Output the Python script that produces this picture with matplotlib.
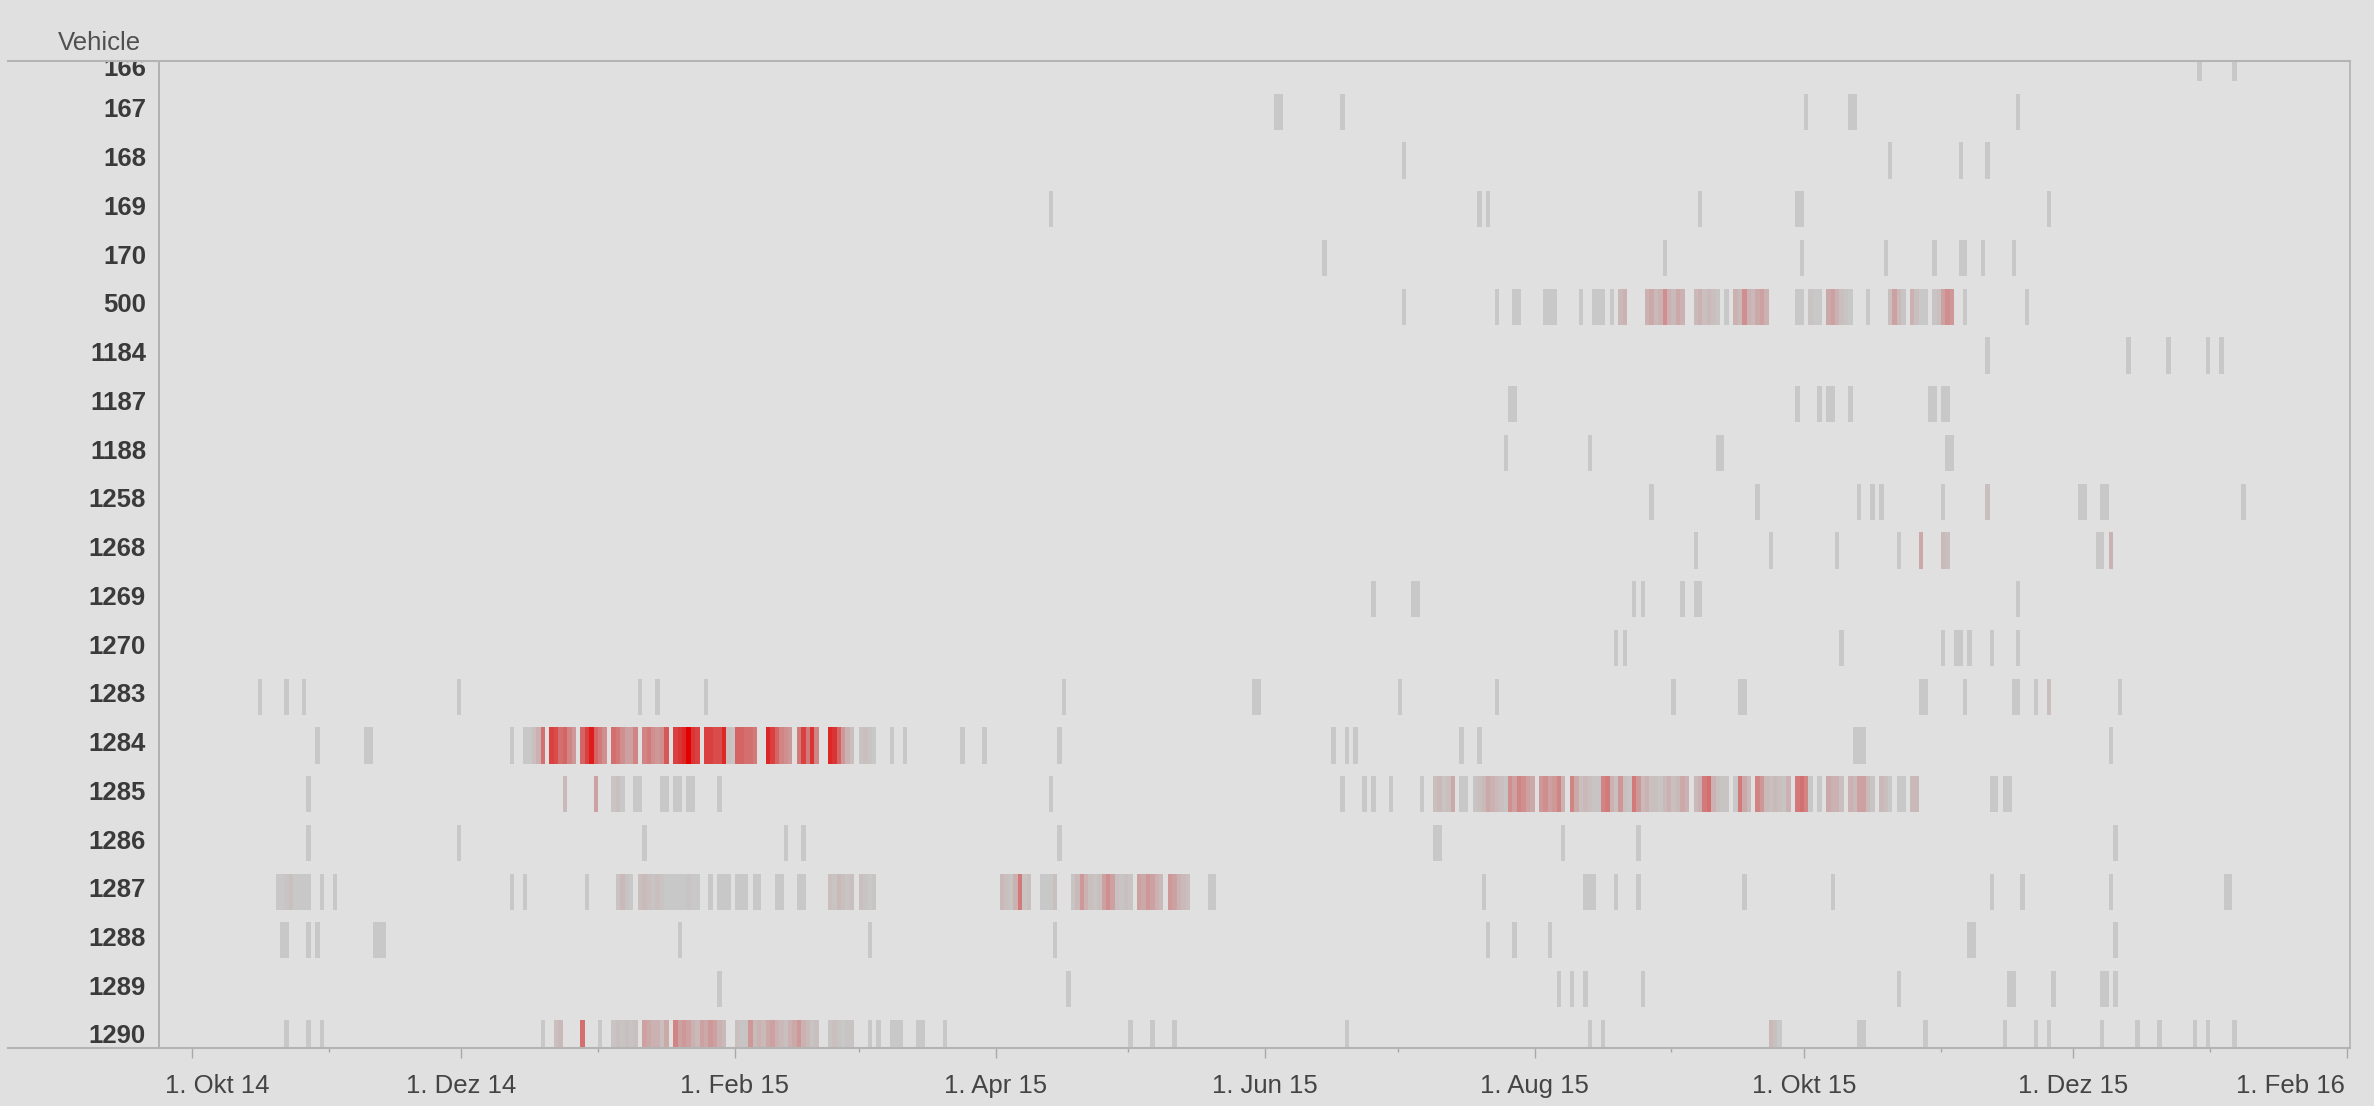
import numpy as np
import matplotlib
matplotlib.use("Agg")
import matplotlib.pyplot as plt
import matplotlib.dates as mdates
from matplotlib.transforms import blended_transform_factory
from matplotlib.patches import Rectangle
from matplotlib.lines import Line2D

# ---------------- data ----------------
START = "2014-10-01"   # day 0 of the event offsets below

vehicles = ["166", "167", "168", "169", "170", "500", "1184", "1187", "1188", "1258",
            "1268", "1269", "1270", "1283", "1284", "1285", "1286", "1287", "1288",
            "1289", "1290"]

# each entry: (first day offset, [level of each consecutive day]) ; level 0 = grey, 1 = full red
ev_166 = [(454, [0]), (462, [0])]
ev_167 = [(245, [0, 0]), (260, [0]), (365, [0]), (375, [0, 0]), (413, [0])]
ev_168 = [(274, [0]), (384, [0]), (400, [0]), (406, [0])]
ev_169 = [(194, [0]), (291, [0]), (293, [0]), (341, [0]), (363, [0, 0]), (420, [0])]
ev_170 = [(256, [0]), (333, [0]), (364, [0]), (383, [0]), (394, [0]), (400, [0, 0]),
          (405, [0]), (412, [0])]
ev_500 = [(274, [0]), (295, [0]), (299, [0, 0]), (306, [0, 0, 0]), (314, [0]), (317, [0, 0, 0]),
          (321, [0]), (323, [0.15, 0.2]),
          (329, [0.2, 0.25, 0.15, 0.2, 0.4, 0.2, 0.15, 0.25, 0.2]),
          (340, [0.15, 0.2, 0.1, 0.15, 0.1, 0.05]), (347, [0]),
          (349, [0.2, 0.15, 0.4, 0.2, 0.15, 0.25, 0.3, 0.2]), (363, [0, 0]), (366, [0.05, 0, 0]),
          (370, [0.25, 0.3, 0.2, 0.1, 0.05, 0]), (379, [0]), (384, [0.1, 0.3, 0.15, 0.05]),
          (389, [0.2, 0.1, 0, 0]), (394, [0.05, 0.1, 0.3, 0.4, 0.35]), (401, [0]), (415, [0])]
ev_1184 = [(406, [0]), (438, [0]), (447, [0]), (456, [0]), (459, [0])]
ev_1187 = [(298, [0, 0]), (363, [0]), (368, [0]), (370, [0, 0]), (375, [0]), (393, [0, 0]),
           (396, [0, 0])]
ev_1188 = [(297, [0]), (316, [0]), (345, [0, 0]), (397, [0, 0])]
ev_1258 = [(330, [0]), (354, [0]), (377, [0]), (380, [0]), (382, [0]), (396, [0]), (406, [0.1]),
           (427, [0, 0]), (432, [0, 0]), (464, [0])]
ev_1268 = [(340, [0]), (357, [0]), (372, [0]), (386, [0]), (391, [0.25]), (396, [0.15, 0.1]),
           (431, [0, 0]), (434, [0.2])]
ev_1269 = [(267, [0]), (276, [0, 0]), (326, [0]), (328, [0]), (337, [0]), (340, [0, 0]), (413, [0])]
ev_1270 = [(322, [0]), (324, [0]), (373, [0]), (396, [0]), (399, [0, 0]), (402, [0]), (407, [0]),
           (413, [0])]
ev_1283 = [(15, [0]), (21, [0]), (25, [0]), (60, [0]), (101, [0]), (105, [0]), (116, [0]),
           (197, [0]), (240, [0, 0]), (273, [0]), (295, [0]), (335, [0]), (350, [0, 0]),
           (391, [0, 0]), (401, [0]), (412, [0, 0]), (417, [0]), (420, [0.1]), (436, [0])]
ev_1284 = [(28, [0]), (39, [0, 0]), (72, [0]), (75, [0, 0, 0.1, 0.2, 0.55]),
           (81, [0.75, 0.7, 0.55, 0.6, 0.45, 0.35]), (88, [0.6, 0.75, 0.9, 0.6, 0.5, 0.4]),
           (95, [0.55, 0.5, 0.4, 0.3, 0.3, 0.45]), (102, [0.45, 0.5, 0.4, 0.35, 0.4, 0.65]),
           (109, [0.75, 0.8, 0.85, 1.0, 0.8, 0.75]),
           (116, [0.75, 0.75, 0.7, 0.7, 0.85, 0.1, 0.05]),
           (123, [0.6, 0.6, 0.55, 0.55, 0.5]), (130, [0.85, 0.75, 0.6, 0.45, 0.4, 0.35]),
           (137, [0.5, 0.75, 0.5, 0.8, 0.45]), (144, [0.85, 0.8, 0.6, 0.35, 0.2, 0.1]),
           (151, [0.05, 0.1, 0.05, 0]), (158, [0]), (161, [0]), (174, [0]), (179, [0]), (196, [0]),
           (258, [0]), (261, [0]), (263, [0]), (287, [0]), (291, [0]), (376, [0, 0, 0]), (434, [0])]
ev_1285 = [(26, [0]), (84, [0.15]), (91, [0.3]), (95, [0.05, 0.1, 0]), (100, [0, 0]), (106, [0, 0]),
           (109, [0, 0]), (112, [0, 0]), (119, [0]), (194, [0]), (260, [0]), (265, [0]), (267, [0]),
           (271, [0]), (278, [0]), (281, [0.1, 0.15, 0.05, 0.1, 0.25]), (287, [0, 0]),
           (290, [0.05, 0.1, 0.15, 0.25, 0.2, 0.15, 0.1, 0.05]),
           (298, [0.4, 0.3, 0.45, 0.4, 0.3, 0.25]), (305, [0.35, 0.4, 0.3, 0.35, 0.45, 0.2]),
           (312, [0.45, 0.25, 0.1, 0.15, 0.1, 0.05, 0.05, 0.45, 0.5, 0.2, 0.1]),
           (323, [0.35, 0.1, 0.05]),
           (326, [0.5, 0.35, 0.15, 0.2, 0.1, 0.1, 0.05, 0.15, 0.2, 0.1, 0.15, 0.25, 0.2]),
           (340, [0.15, 0.2, 0.5, 0.55, 0.2, 0.1, 0.05, 0.05]), (349, [0, 0.5, 0.25, 0.15]),
           (354, [0.45, 0.35, 0.15, 0.1, 0.15, 0.1, 0.05]), (361, [0.2]),
           (363, [0.5, 0.55, 0.45, 0]), (368, [0]), (370, [0.25, 0.2, 0.2, 0.1]),
           (375, [0.2, 0.15, 0.3, 0.3, 0.15, 0.05]), (382, [0.15, 0.1, 0]), (386, [0, 0]),
           (389, [0.15, 0.15]), (407, [0, 0]), (410, [0, 0])]
ev_1286 = [(26, [0]), (60, [0]), (102, [0]), (134, [0]), (138, [0]), (196, [0]), (281, [0, 0]),
           (310, [0]), (327, [0]), (435, [0])]
ev_1287 = [(19, [0, 0, 0.05, 0.1, 0, 0, 0, 0]), (29, [0]), (32, [0]), (72, [0]), (75, [0]), (89, [0]),
           (96, [0.05, 0.15, 0.05, 0]),
           (101, [0.1, 0.15, 0.1, 0.05, 0.1, 0.05, 0, 0, 0, 0, 0, 0.05, 0, 0]),
           (117, [0]), (119, [0, 0, 0]), (123, [0, 0, 0]), (127, [0, 0]), (132, [0, 0]), (137, [0, 0]),
           (144, [0.1, 0.05, 0.15, 0.1, 0.05, 0.1]), (151, [0.1, 0.05, 0, 0.05]),
           (183, [0.15, 0.1, 0.05, 0.2, 0.5, 0.05, 0.1]), (192, [0, 0, 0, 0.1]),
           (199, [0.05, 0.15, 0.35, 0.2, 0.1, 0.05, 0.1, 0.3, 0.4, 0.3, 0.1, 0.05, 0.1, 0.05]),
           (214, [0.3, 0.25, 0.35, 0.3, 0.2, 0.15]), (221, [0.35, 0.3, 0.2, 0.15, 0.1]),
           (230, [0, 0]), (292, [0]), (315, [0, 0, 0]), (322, [0]), (327, [0]), (351, [0]),
           (371, [0]), (407, [0]), (414, [0]), (434, [0]), (460, [0, 0])]
ev_1288 = [(20, [0, 0]), (26, [0]), (28, [0]), (41, [0, 0, 0]), (110, [0]), (153, [0]), (195, [0]),
           (293, [0]), (299, [0]), (307, [0]), (402, [0, 0]), (435, [0])]
ev_1289 = [(119, [0]), (198, [0]), (309, [0]), (312, [0]), (315, [0]), (328, [0]), (386, [0]),
           (411, [0, 0]), (421, [0]), (432, [0, 0]), (435, [0])]
ev_1290 = [(21, [0]), (26, [0]), (29, [0]), (79, [0]), (82, [0.1, 0.15]), (88, [0.55]), (92, [0]),
           (95, [0.05, 0.1, 0.05, 0.1, 0.05, 0.1]), (102, [0.3, 0.25, 0.2, 0.2, 0.1, 0.25]),
           (109, [0.45, 0.3, 0.35, 0.3, 0.2, 0.15, 0.3, 0.25, 0.35, 0.3, 0.2, 0.15]),
           (123, [0.1, 0.05, 0.05, 0.35, 0.15, 0.2, 0.15, 0.25, 0.3, 0.2, 0.15, 0.1, 0.2, 0.25,
                  0.35, 0.2, 0.15, 0.05, 0.1]),
           (144, [0.05, 0.1, 0.05, 0, 0.05, 0.05]), (153, [0]), (155, [0]), (158, [0, 0, 0]),
           (164, [0, 0]), (170, [0]), (212, [0]), (217, [0]), (222, [0]), (261, [0]), (316, [0]),
           (319, [0]), (357, [0.15, 0.1, 0]), (377, [0, 0]), (392, [0]), (410, [0]), (417, [0]),
           (420, [0]), (432, [0]), (440, [0]), (445, [0]), (453, [0]), (456, [0]), (462, [0])]

events = [ev_166, ev_167, ev_168, ev_169, ev_170, ev_500, ev_1184, ev_1187, ev_1188, ev_1258,
          ev_1268, ev_1269, ev_1270, ev_1283, ev_1284, ev_1285, ev_1286, ev_1287, ev_1288,
          ev_1289, ev_1290]

major_ticks = ["2014-10-01", "2014-12-01", "2015-02-01", "2015-04-01", "2015-06-01",
               "2015-08-01", "2015-10-01", "2015-12-01", "2016-02-01"]
major_labels = ["1. Okt 14", "1. Dez 14", "1. Feb 15", "1. Apr 15", "1. Jun 15",
                "1. Aug 15", "1. Okt 15", "1. Dez 15", "1. Feb 16"]
minor_ticks = ["2014-11-01", "2015-01-01", "2015-03-01", "2015-05-01", "2015-07-01",
               "2015-09-01", "2015-11-01", "2016-01-01"]

# ---------------- style ----------------
W, H, DPI = 2374, 1106, 100
BG = "#e0e0e0"
GREY = np.array([200, 200, 200]) / 255.0
RED = np.array([226, 0, 0]) / 255.0
GAMMA = 1.35

def px_x(x):
    return x / W

def px_y(y):
    return 1 - y / H

ax_left, ax_right, ax_top, ax_bottom = 158.5, 2350.0, 60.6, 1047.7

plt.rcParams["font.family"] = ["Liberation Sans", "DejaVu Sans"]
fig = plt.figure(figsize=(W / DPI, H / DPI), dpi=DPI, facecolor=BG)
ax = fig.add_axes([px_x(ax_left), px_y(ax_bottom), px_x(ax_right - ax_left),
                   (ax_bottom - ax_top) / H])
ax.set_facecolor(BG)

t0 = mdates.date2num(np.datetime64(START))

ys, lefts, widths, colors = [], [], [], []
for i, segs in enumerate(events):
    for start, levels in segs:
        for k, lv in enumerate(levels):
            t = lv ** GAMMA
            ys.append(i)
            lefts.append(t0 + start + k)
            widths.append(1.0)
            colors.append(tuple(GREY * (1 - t) + RED * t))
ax.barh(ys, widths, left=lefts, height=0.74, color=colors, linewidth=0,
        antialiased=False, align="center")

ax.set_xlim(t0 - 7.5, t0 + 488.6)
ax.set_ylim(20.2, -0.05)
ax.set_yticks([])

maj = [mdates.date2num(np.datetime64(d)) for d in major_ticks]
mnr = [mdates.date2num(np.datetime64(d)) for d in minor_ticks]
ax.set_xticks(maj)
ax.set_xticks(mnr, minor=True)
ax.tick_params(axis="x", which="major", length=7.5, width=1.0, color="#a8a8a8",
               labelbottom=False, direction="out")
ax.tick_params(axis="x", which="minor", length=3.0, width=1.0, color="#a8a8a8",
               direction="out")

for side in ["top", "bottom"]:
    ax.spines[side].set_visible(False)
ax.spines["left"].set_color("#b0b0b0")
ax.spines["left"].set_linewidth(1.4)
ax.spines["right"].set_color("#b8b8b8")
ax.spines["right"].set_linewidth(1.4)

# x labels
xt = blended_transform_factory(ax.transData, fig.transFigure)
ylab = px_y(1074)
for k, (pos, lab) in enumerate(zip(maj, major_labels)):
    if k == 0:
        fig.text(px_x(165), ylab, lab, ha="left", va="top", fontsize=18.5, color="#444444")
    elif k == len(maj) - 1:
        fig.text(px_x(2345), ylab, lab, ha="right", va="top", fontsize=18.5, color="#444444")
    else:
        fig.text(pos, ylab, lab, ha="center", va="top", fontsize=18.5, color="#444444",
                 transform=xt)

# y labels (the first one sits partly hidden under the top edge, as in the original)
yt = blended_transform_factory(fig.transFigure, ax.transData)
for i, v in enumerate(vehicles):
    off = 0.12 if i == 0 else -0.03
    fig.text(px_x(146), i + off, v, ha="right", va="center", fontsize=18.5,
             fontweight="bold", color="#3a3a3a", transform=yt, zorder=1)

# cover above the plot top (clips the partially hidden first label)
fig.add_artist(Rectangle((0, px_y(ax_top)), 1, 1 - px_y(ax_top), transform=fig.transFigure,
                         facecolor=BG, edgecolor="none", zorder=5))
fig.text(px_x(58), px_y(42.5), "Vehicle", ha="left", va="center", fontsize=18.5,
         color="#505050", zorder=6)

for yy in (ax_top, ax_bottom):
    fig.add_artist(Line2D([px_x(8), px_x(ax_right)], [px_y(yy), px_y(yy)],
                          transform=fig.transFigure, color="#b4b4b4", linewidth=1.5, zorder=7))

fig.savefig("out.png", dpi=DPI, facecolor=BG)
